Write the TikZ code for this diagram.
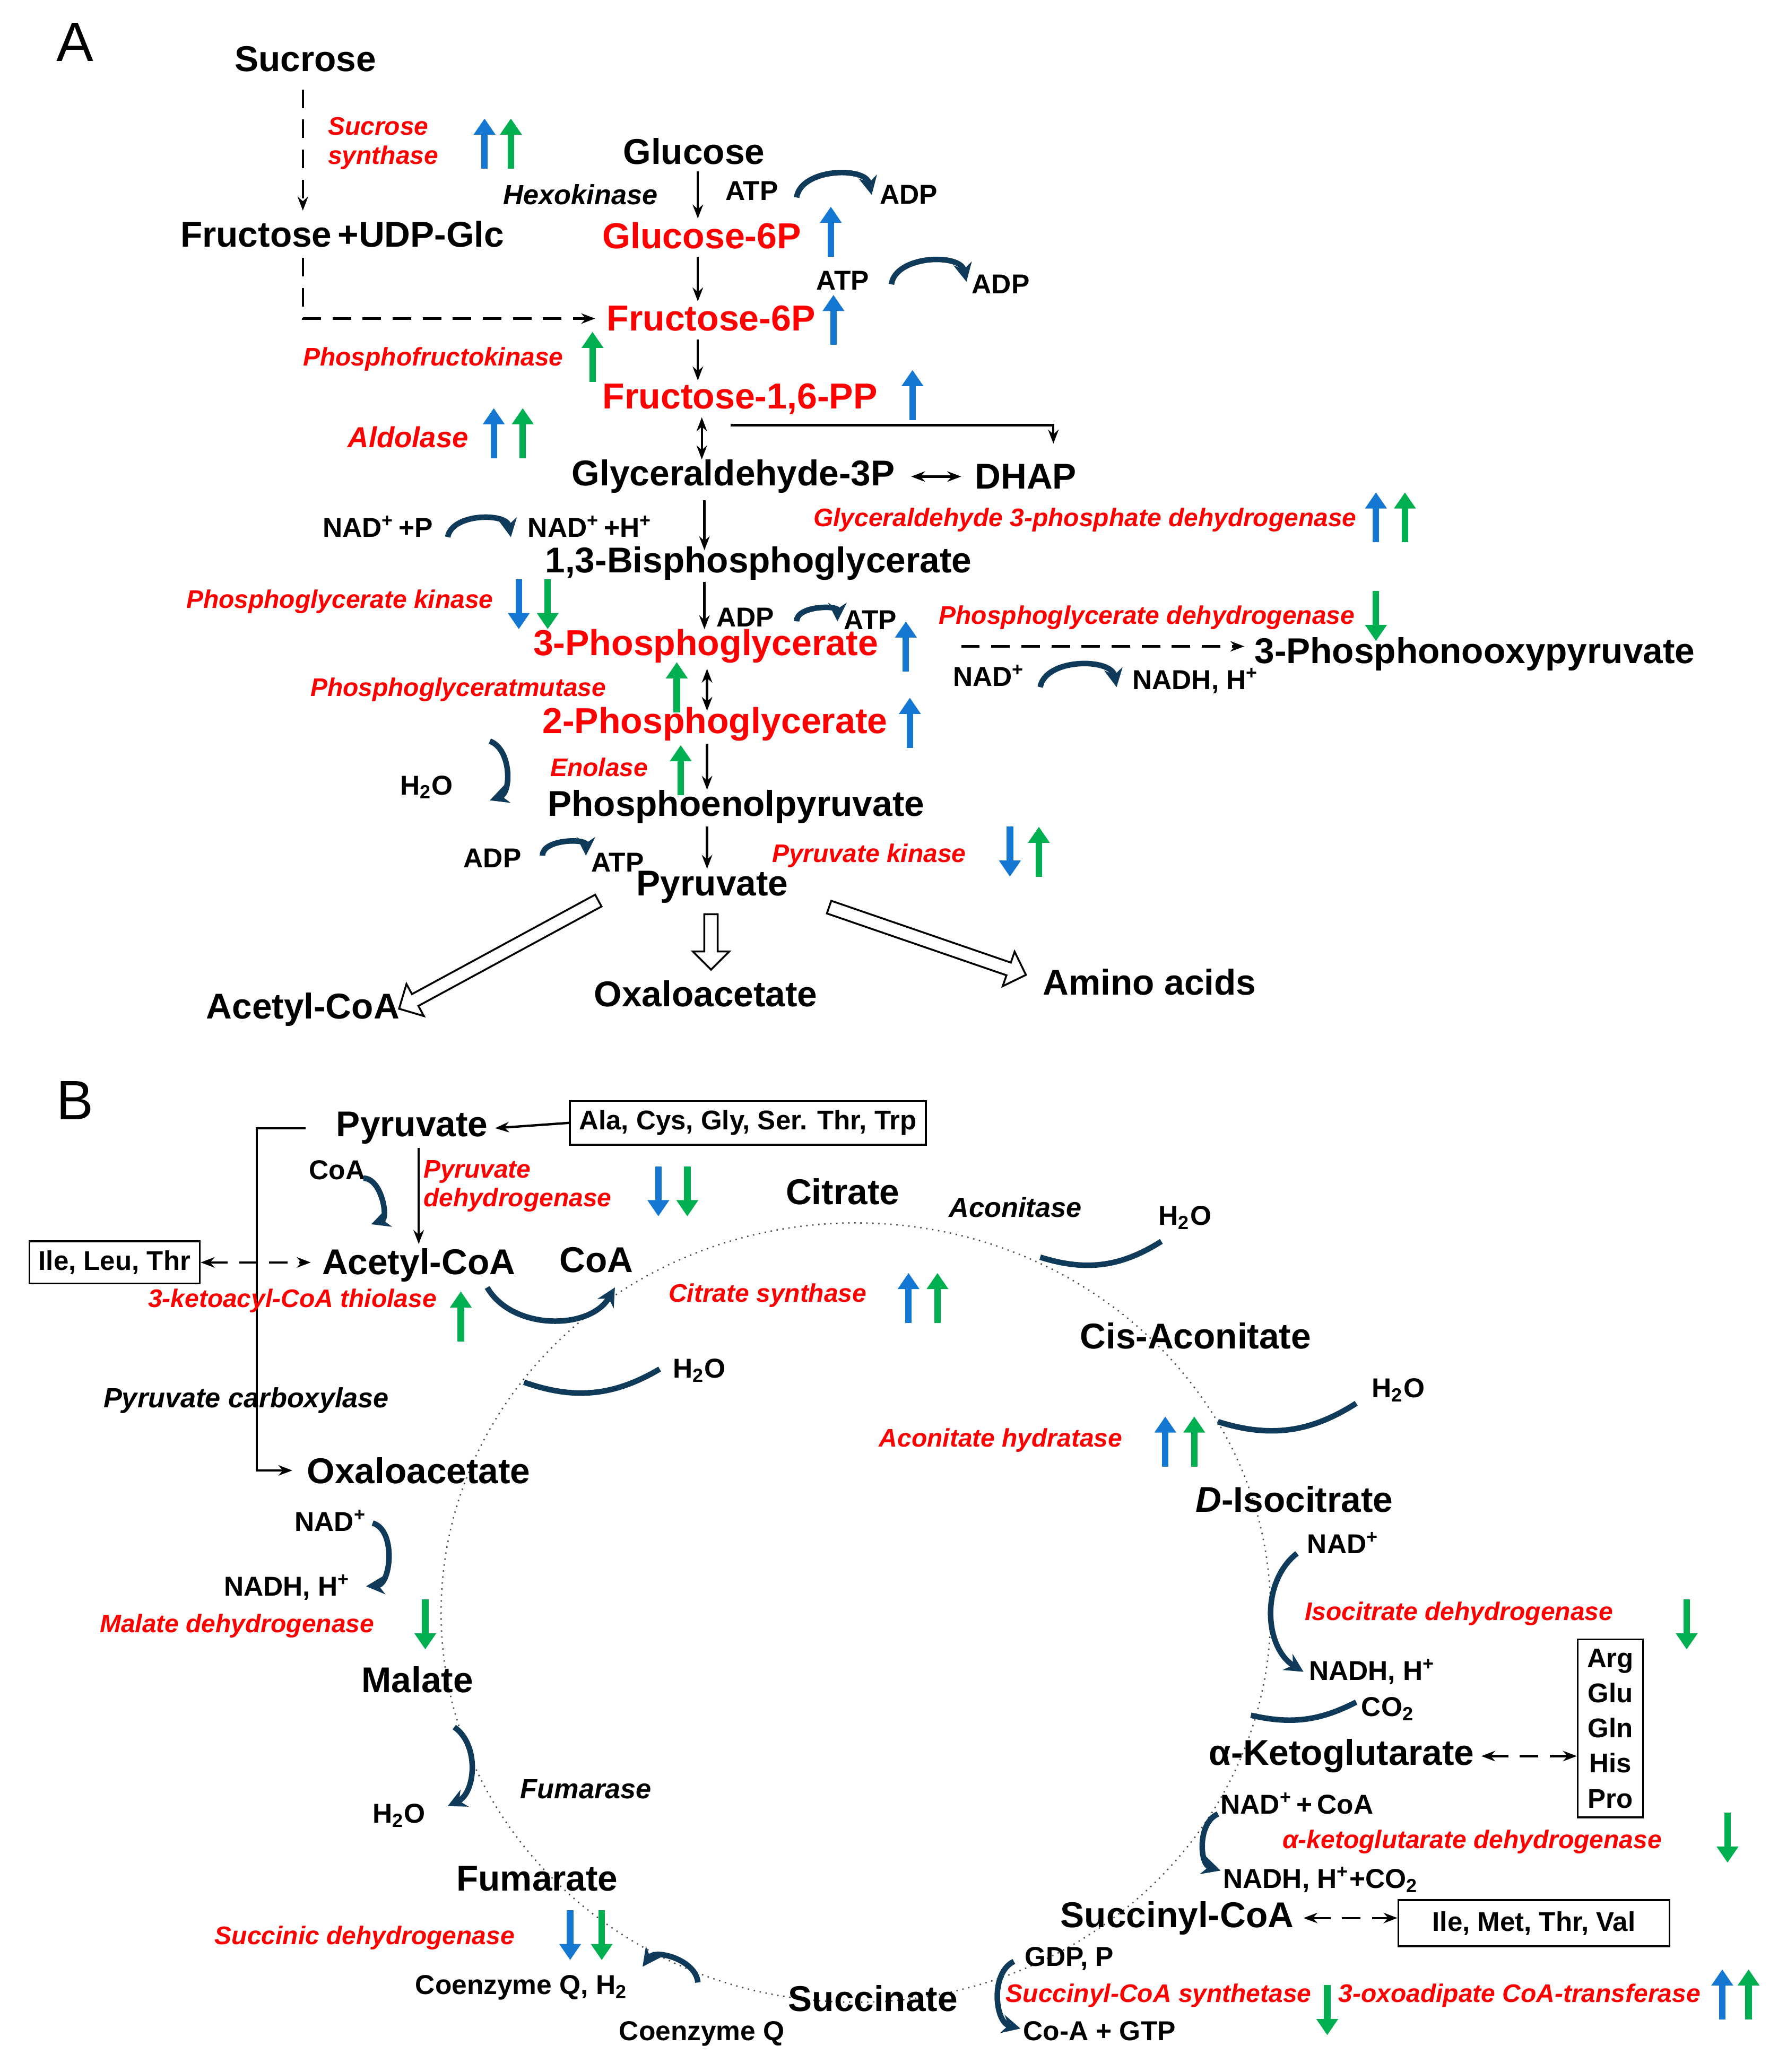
\documentclass[tikz,border=0pt]{standalone}
\usepackage{fontspec}
\setmainfont{Liberation Sans}
\usetikzlibrary{arrows.meta,shapes.arrows}
\definecolor{ublue}{RGB}{20,120,210}
\definecolor{ugreen}{RGB}{0,176,80}
\definecolor{teal2}{RGB}{16,58,90}
\newcommand\sps[1]{\textsuperscript{#1}}
\newcommand\sbs[1]{\textsubscript{#1}}
\tikzset{
 m/.style={font=\fontsize{15.5}{16}\selectfont\bfseries},
 mr/.style={font=\fontsize{15.6}{16}\selectfont\bfseries,text=red},
 s/.style={font=\fontsize{11.8}{12}\selectfont\bfseries},
 e/.style={font=\fontsize{11}{12.5}\selectfont\bfseries\itshape,text=red,align=left},
 ek/.style={font=\fontsize{12}{13}\selectfont\bfseries\itshape},
 bt/.style={font=\fontsize{11.7}{12}\selectfont\bfseries},
 ar/.style={-{Stealth[length=6pt]},line width=1pt},
 dar/.style={ar,dashed,dash pattern=on 8pt off 5pt},
 dd/.style={{Stealth[length=6pt]}-{Stealth[length=6pt]},line width=1pt,dashed,dash pattern=on 8pt off 5pt},
 up/.style={-{Triangle[length=7pt,width=9pt]},line width=2.8pt},
 cur/.style={-{Stealth[length=8pt,width=8pt]},line width=2.4pt,teal2},
 box/.style={draw,line width=0.8pt,inner sep=4pt},
 hol/.style={draw,single arrow,line width=0.8pt,minimum height=#1,single arrow head extend=5pt,inner sep=2.5pt,fill=white},
}
\newcommand\Up[3]{\draw[up,#1] (#2,#3+19) -- (#2,#3-19);}
\newcommand\Dn[3]{\draw[up,#1] (#2,#3-19) -- (#2,#3+19);}
\begin{document}
\begin{tikzpicture}[x=0.02cm,y=-0.02cm]
\useasboundingbox (0,0) rectangle (1350,1574);
% ---------- A
\node[font=\fontsize{24}{24}\selectfont] (LA) at (57,32) {A};
\node[m] (suc) at (232,45) {Sucrose};
\node[m] (fru) at (260,178) {Fructose\,+UDP-Glc};
\draw[dar] (230,68) -- (230,160);
\node[e] (ss) at (291,109) {Sucrose\\synthase};
\Up{ublue}{368}{109}\Up{ugreen}{388}{109}
\node[m] (glc) at (527,115) {Glucose};
\node[ek] at (441,148) {Hexokinase};
\draw[ar] (530,130) -- (530,166);
\node[s] at (571,145) {ATP};
\draw[cur] (605,150) to[bend left=80] (662,148);
\node[s] at (690,148) {ADP};
\node[mr] (g6p) at (533,179) {Glucose-6P};
\Up{ublue}{631}{176}
\draw[ar] (530,195) -- (530,229);
\node[s] at (640,213) {ATP};
\draw[cur] (677,216) to[bend left=80] (734,214);
\node[s] at (760,216) {ADP};
\draw[dar] (230,196) -- (230,242) -- (452,242);
\node[mr] (f6p) at (540,242) {Fructose-6P};
\Up{ublue}{633}{243}
\node[e] at (329,273) {Phosphofructokinase};
\Up{ugreen}{450}{271}
\draw[ar] (530,258) -- (530,289);
\node[mr] (fpp) at (562,303) {Fructose-1,6-PP};
\Up{ublue}{693}{300}
\node[e,font=\fontsize{12.5}{13}\selectfont\bfseries\itshape] at (310,332) {Aldolase};
\Up{ublue}{375}{329}\Up{ugreen}{397}{329}
\draw[{Stealth[length=6pt]}-{Stealth[length=6pt]},line width=1pt] (533,317) -- (533,349);
\draw[ar] (555,323) -- (800,323) -- (800,337);
\node[m] (gap) at (557,362) {Glyceraldehyde-3P};
\draw[{Stealth[length=6pt]}-{Stealth[length=6pt]},line width=1pt] (692,362) -- (730,362);
\node[m] (dhap) at (779,362) {DHAP};
\node[s] at (287,400) {NAD\sps{+}\,+P};
\draw[cur] (340,408) to[bend left=80] (388,408);
\node[s] at (448,400) {NAD\sps{+}\,+H\sps{+}};
\draw[ar] (535,380) -- (535,418);
\node[e] at (824,395) {Glyceraldehyde 3-phosphate dehydrogenase};
\Up{ublue}{1045}{393}\Up{ugreen}{1067}{393}
\node[m] (bpg) at (576,428) {1,3-Bisphosphoglycerate};
\node[e] at (258,457) {Phosphoglycerate kinase};
\Dn{ublue}{394}{459}\Dn{ugreen}{416}{459}
\draw[ar] (535,442) -- (535,478);
\node[s] at (566,469) {ADP};
\draw[cur] (605,472) to[bend left=90] (636,472);
\node[s] at (661,471) {ATP};
\node[mr] (p3) at (536,491) {3-Phosphoglycerate};
\Up{ublue}{688}{491}
\node[e] at (871,469) {Phosphoglycerate dehydrogenase};
\Dn{ugreen}{1045}{468}
\draw[dar] (730,491) -- (945,491);
\node[m] (hpp) at (1120,497) {3-Phosphonooxypyruvate};
\node[s] at (751,513) {NAD\sps{+}};
\draw[cur] (790,522) to[bend left=80] (848,522);
\node[s] at (908,517) {NADH, H\sps{+}};
\node[e] at (348,524) {Phosphoglyceratmutase};
\Up{ugreen}{514}{522}
\draw[{Stealth[length=6pt]}-{Stealth[length=6pt]},line width=1pt] (537,508) -- (537,540);
\node[mr] (p2) at (543,550) {2-Phosphoglycerate};
\Up{ublue}{691}{549}
\node[s] at (324,598) {H\sbs{2}O};
\draw[cur] (372,563) to[bend left=70] (372,608);
\node[e] at (455,583) {Enolase};
\Up{ugreen}{517}{585}
\draw[ar] (537,565) -- (537,600);
\node[m] (pep) at (559,613) {Phosphoenolpyruvate};
\node[s] at (374,652) {ADP};
\draw[cur] (412,650) to[bend left=90] (445,650);
\node[s] at (469,655) {ATP};
\draw[ar] (537,628) -- (537,660);
\node[e] at (660,650) {Pyruvate kinase};
\Dn{ublue}{767}{647}\Up{ugreen}{789}{647}
\node[m] (pyr) at (541,674) {Pyruvate};
\node[hol=98pt,rotate=-151.5] at (381,724) {};
\node[hol=24pt,rotate=-90] at (540,713) {};
\node[hol=90pt,rotate=-19] at (702,714) {};
\node[m] at (230,767) {Acetyl-CoA};
\node[m] at (536,755) {Oxaloacetate};
\node[m] at (873,746) {Amino acids};
% ---------- B
\node[font=\fontsize{24}{24}\selectfont] (LB) at (57,836) {B};
\draw[line width=0.6pt,dotted,gray!60!black] (650,1225) ellipse [x radius=315,y radius=296];
\node[m] (pyrB) at (313,857) {Pyruvate};
\node[box,bt] (aa1) at (568,853) {Ala, Cys, Gly, Ser. Thr, Trp};
\draw[ar] (aa1.west) -- (376,857);
\draw[ar] (232,857) -- (195,857) -- (195,1117) -- (222,1117);
\node[s] at (256,889) {CoA};
\draw[cur] (276,895) to[bend left=80] (282,930);
\draw[ar] (318,872) -- (318,945);
\node[e] at (393,901) {Pyruvate\\dehydrogenase};
\Dn{ublue}{500}{905}\Dn{ugreen}{522}{905}
\node[m] at (640,905) {Citrate};
\node[ek] at (771,917) {Aconitase};
\node[s] at (900,925) {H\sbs{2}O};
\draw[cur,-] (790,955) to[bend right=25] (882,943);
\node[box,bt] (ilt) at (87,959) {Ile, Leu, Thr};
\draw[dd] (ilt.east) -- (236,959);
\node[m] (acB) at (318,961) {Acetyl-CoA};
\node[m] at (453,957) {CoA};
\draw[cur] (370,978) to[bend right=60] (467,978);
\node[e] at (222,988) {3-ketoacyl-CoA thiolase};
\Up{ugreen}{350}{1000}
\node[e] at (583,984) {Citrate synthase};
\Up{ublue}{690}{986}\Up{ugreen}{712}{986}
\node[m] at (908,1015) {Cis-Aconitate};
\node[s] at (531,1041) {H\sbs{2}O};
\draw[cur,-] (398,1050) to[bend right=25] (501,1040);
\node[s] at (1062,1056) {H\sbs{2}O};
\draw[cur,-] (925,1080) to[bend right=25] (1030,1066);
\node[ek] at (187,1064) {Pyruvate carboxylase};
\node[e] at (760,1094) {Aconitate hydratase};
\Up{ublue}{885}{1095}\Up{ugreen}{907}{1095}
\node[m] at (318,1117) {Oxaloacetate};
\node[m] at (983,1139) {\textit{D}-Isocitrate};
\node[s] at (251,1155) {NAD\sps{+}};
\draw[cur] (283,1157) to[bend left=80] (278,1205);
\node[s] at (218,1206) {NADH, H\sps{+}};
\node[s] at (1020,1172) {NAD\sps{+}};
\draw[cur] (985,1180) to[bend right=55] (990,1270);
\node[s] at (1042,1270) {NADH, H\sps{+}};
\node[e] at (1108,1226) {Isocitrate dehydrogenase};
\Dn{ugreen}{1281}{1234}
\node[e] at (180,1235) {Malate dehydrogenase};
\Dn{ugreen}{323}{1234}
\node[box,bt,font=\fontsize{11.7}{15.2}\selectfont\bfseries,align=center] (aa2) at (1223,1313) {Arg\\Glu\\Gln\\His\\Pro};
\node[m] at (317,1276) {Malate};
\node[s] at (1054,1298) {CO\sbs{2}};
\draw[cur,-] (950,1303) to[bend right=20] (1030,1293);
\node[m] (akg) at (1019,1334) {α-Ketoglutarate};
\coordinate (akgR) at (1125,1334);
\draw[dd] (akgR) -- (aa2.west|-akgR);
\node[s] at (303,1379) {H\sbs{2}O};
\draw[cur] (345,1312) to[bend left=60] (340,1372);
\node[ek] at (445,1359) {Fumarase};
\node[s] at (985,1370) {NAD\sps{+}\,+\,CoA};
\draw[cur] (925,1378) to[bend right=70] (927,1421);
\node[e] at (1118,1399) {α-ketoglutarate dehydrogenase};
\Dn{ugreen}{1312}{1396}
\node[s] at (1003,1428) {NADH, H\sps{+}+CO\sbs{2}};
\node[m] at (408,1427) {Fumarate};
\node[m] (scoa) at (894,1457) {Succinyl-CoA};
\node[box,bt,minimum width=4.12cm,minimum height=0.7cm] (imv) at (1165,1461) {Ile, Met, Thr, Val};
\coordinate (scR) at (990,1457);
\draw[dd] (scR) -- (imv.west|-scR);
\node[e] at (277,1472) {Succinic dehydrogenase};
\Dn{ublue}{433}{1470}\Dn{ugreen}{457}{1470}
\node[s] at (396,1510) {Coenzyme Q, H\sbs{2}};
\draw[cur] (530,1506) to[bend right=70] (488,1494);
\node[s] at (533,1545) {Coenzyme Q};
\node[m] at (663,1518) {Succinate};
\node[s] at (812,1488) {GDP, P};
\draw[cur] (770,1490) to[bend right=70] (775,1541);
\node[s] at (835,1543) {Co-A + GTP};
\node[e] at (880,1516) {Succinyl-CoA synthetase};
\Dn{ugreen}{1008}{1527}
\node[e] at (1154,1516) {3-oxoadipate CoA-transferase};
\Up{ublue}{1308}{1515}\Up{ugreen}{1328}{1515}
\end{tikzpicture}
\end{document}
